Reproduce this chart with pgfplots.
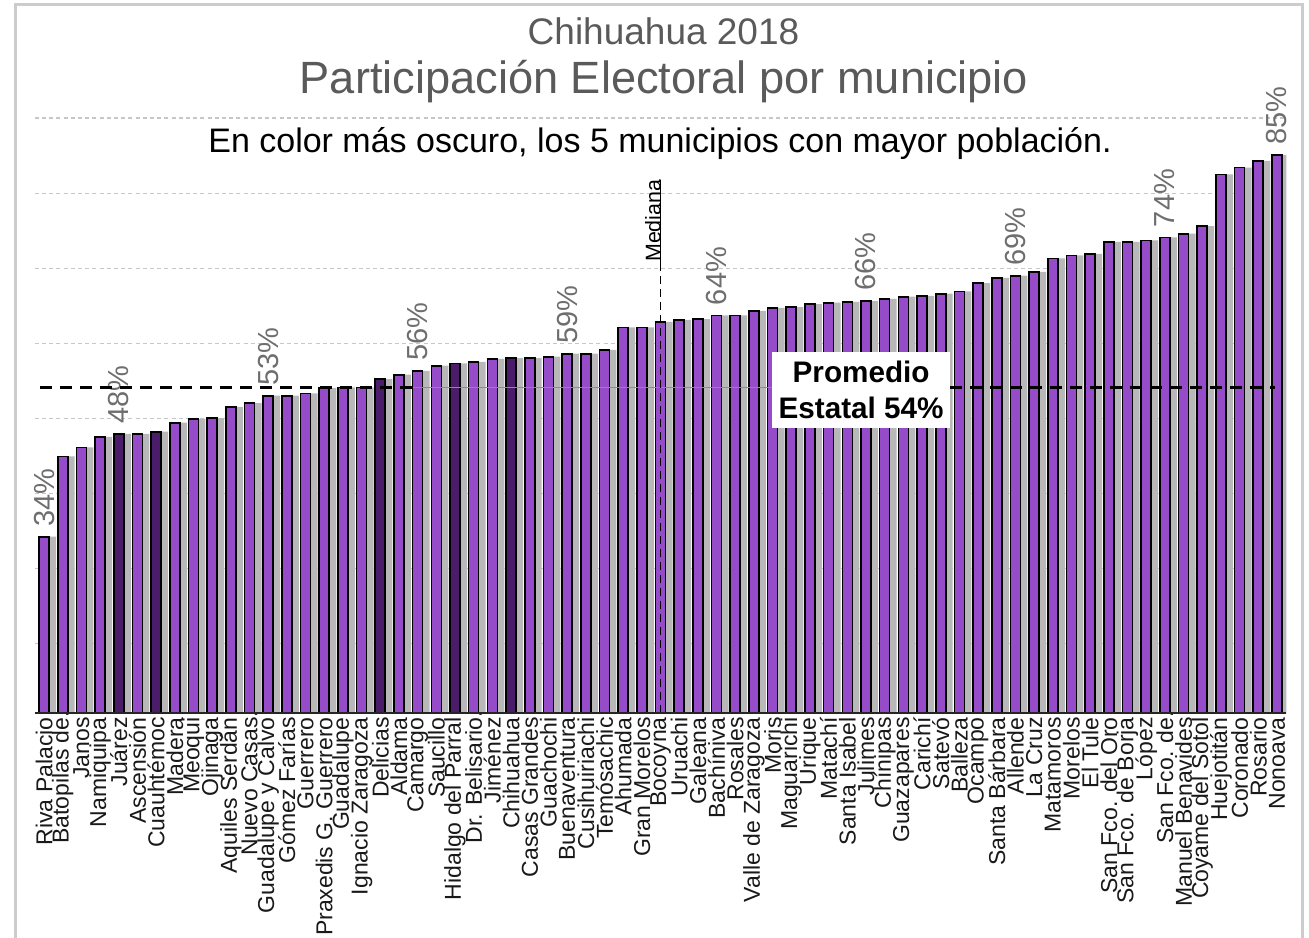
\documentclass[border=0pt]{standalone}
\usepackage{pgfplots}
\pgfplotsset{compat=1.18}
\usepackage{pgfplotstable}
\usepackage{fontspec}
\setmainfont{Liberation Sans}

\definecolor{barpurple}{HTML}{964BC8}
\definecolor{bardark}{HTML}{4B1C69}
\definecolor{titlegray}{HTML}{5A5A5A}
\definecolor{labgray}{HTML}{6E6E6E}

% light bars (all municipios except the 5 most populous)
\pgfplotstableread{
x v
1 34.2
2 44.9
3 46.1
4 47.5
6 47.9
8 49.4
9 49.9
10 50.0
11 51.5
12 52.0
13 53.0
14 53.0
15 53.3
16 54.0
17 54.1
18 54.1
20 55.8
21 56.3
22 57.0
24 57.5
25 57.9
27 58.0
28 58.2
29 58.6
30 58.6
31 59.1
32 62.1
33 62.1
34 62.8
35 63.1
36 63.2
37 63.7
38 63.7
39 64.3
40 64.7
41 64.8
42 65.2
43 65.4
44 65.5
45 65.6
46 65.9
47 66.2
48 66.3
49 66.6
50 66.9
51 68.0
52 68.7
53 69.0
54 69.5
55 71.3
56 71.7
57 71.9
58 73.5
59 73.5
60 73.7
61 74.1
62 74.6
63 75.6
64 82.5
65 83.4
66 84.3
67 85.1
}\lightbars

% the 5 most populous municipios (darker)
\pgfplotstableread{
x v
5 47.9
7 48.2
19 55.2
23 57.3
26 58.0
}\darkbars

% bars carrying a value label
\pgfplotstableread{
x v
1 34.2
5 47.9
13 53.0
21 56.3
29 58.6
37 63.7
45 65.6
53 69.0
61 74.1
67 85.1
}\labelled

\begin{document}
\begin{tikzpicture}
\path[use as bounding box] (0,0) rectangle (654.5pt,468.5pt);
\draw[black!20, line width=1.5pt] (7.5pt,-5pt) -- (7.5pt,466pt) -- (651pt,466pt) -- (651pt,-5pt);

\begin{axis}[
  at={(17.35pt,112pt)}, anchor=south west,
  scale only axis, width=625.8pt, height=334.9pt,
  xmin=0.5, xmax=67.5, ymin=10.7, ymax=100,
  axis line style={draw=none},
  clip mode=individual,
  xtick={1,...,67},
  xtick style={draw=none}, ytick style={draw=none},
  ytick={20,30,...,90}, yticklabels={},
  ymajorgrids,
  grid style={black!22, dash pattern=on 2pt off 1.6pt, line width=0.7pt},
  xticklabels={Riva Palacio, Batopilas de\rlap{...}, Janos, Namiquipa, Juárez, Ascensión, Cuauhtémoc, Madera, Meoqui, Ojinaga, Aquiles Serdán, Nuevo Casas\rlap{...}, Guadalupe y Calvo, Gómez Farías, Guerrero, Praxedis G. Guerrero, Guadalupe, Ignacio Zaragoza, Delicias, Aldama, Camargo, Saucillo, Hidalgo del Parral, Dr. Belisario\rlap{...}, Jiménez, Chihuahua, Casas Grandes, Guachochi, Buenaventura, Cusihuiriachi, Temósachic, Ahumada, Gran Morelos, Bocoyna, Uruachi, Galeana, Bachíniva, Rosales, Valle de Zaragoza, Moris, Maguarichi, Urique, Matachí, Santa Isabel, Julimes, Chínipas, Guazapares, Carichí, Satevó, Balleza, Ocampo, Santa Bárbara, Allende, La Cruz, Matamoros, Morelos, El Tule, San Fco. del Oro, San Fco. de Borja, López, San Fco. de\rlap{...}, Manuel Benavides, Coyame del Sotol, Huejotitán, Coronado, Rosario, Nonoava},
  xticklabel style={rotate=90, anchor=east, inner sep=2pt, text=black!90,
    font=\fontsize{11.5}{12}\selectfont},
]
% shadows
\addplot[ybar, bar width=5pt, bar shift=3.5pt, fill=black!28, draw=none] table[x=x,y=v]{\lightbars};
\addplot[ybar, bar width=5pt, bar shift=3.5pt, fill=black!28, draw=none] table[x=x,y=v]{\darkbars};
% bars
\addplot[ybar, bar width=5pt, bar shift=0pt, fill=barpurple, draw=black, line width=0.8pt] table[x=x,y=v]{\lightbars};
\addplot[ybar, bar width=5pt, bar shift=0pt, fill=bardark, draw=black, line width=0.8pt] table[x=x,y=v]{\darkbars};
% value labels
\addplot[only marks, mark=*, mark size=0pt, mark options={draw=none, fill=none},
  point meta=y,
  nodes near coords={\pgfmathprintnumber[fixed,precision=0,assume math mode=true]{\pgfplotspointmeta}\%},
  nodes near coords style={rotate=90, anchor=west, inner xsep=5pt, inner ysep=0pt,
    text=labgray, font=\fontsize{14.5}{15}\selectfont}] table[x=x,y=v]{\labelled};
% mean line
\addplot[black, line width=1.2pt, dash pattern=on 6pt off 4pt] coordinates {(0.79,54.1) (20.75,54.1)};
\addplot[black!45, line width=0.8pt] coordinates {(20.75,54.1) (39.97,54.1)};
\addplot[black, line width=1.2pt, dash pattern=on 6pt off 4pt] coordinates {(49.5,54.1) (66.9,54.1)};
\node[fill=white, inner sep=0pt, minimum width=89pt, minimum height=38pt, align=center,
  font=\bfseries\fontsize{14.85}{18}\selectfont] at (axis cs:44.74,53.8) {Promedio\\Estatal 54\%};
% median
\addplot[black, line width=0.8pt, dash pattern=on 4pt off 2.5pt] coordinates {(34,10.7) (34,70.6)};
\addplot[black, line width=0.6pt] coordinates {(34,70.6) (34,81.8)};
\node[rotate=90, anchor=base west, inner sep=0pt, font=\fontsize{10.7}{12}\selectfont] at (axis cs:34,70.8) {Mediana};
% baseline
\draw[black!85, line width=1pt] (rel axis cs:0,0) -- (rel axis cs:1,0);
\end{axis}

\node[anchor=base, text=titlegray, font=\fontsize{18.5}{22}\selectfont] at (331.75pt,446pt) {Chihuahua 2018};
\node[anchor=base, text=titlegray, font=\fontsize{22.6}{26}\selectfont] at (332pt,421.5pt) {Participación Electoral por municipio};
\node[anchor=base, text=black, font=\fontsize{17}{20}\selectfont] at (330pt,392pt) {En color más oscuro, los 5 municipios con mayor población.};
\end{tikzpicture}
\end{document}
